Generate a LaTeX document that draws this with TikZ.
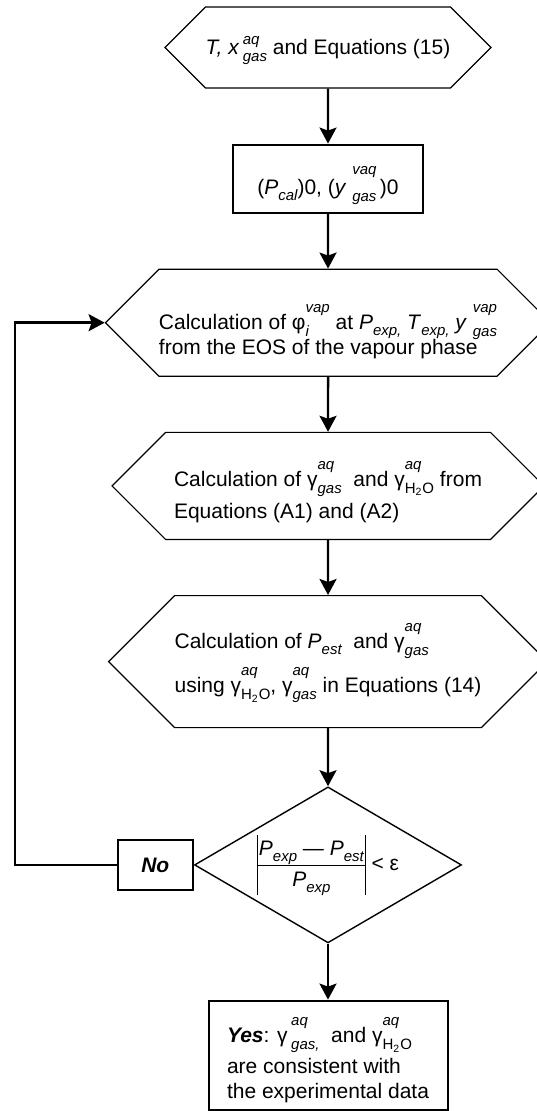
\documentclass[tikz,border=0pt]{standalone}
\usepackage{fontspec}
\setmainfont{Liberation Sans}
\usepackage{tikz}
\usetikzlibrary{positioning, shapes.symbols, shapes.geometric, arrows.meta}

\newcommand{\sst}[3][8.5pt]{{\fontsize{7.5}{9}\selectfont\itshape
  \setbox0\hbox{#2}\setbox2\hbox{#3}%
  \dimen0=\wd0 \ifdim\wd2>\dimen0 \dimen0=\wd2 \fi
  \rlap{\smash{\raisebox{#1}{\box0}}}\rlap{\smash{\raisebox{-3.5pt}{\box2}}}\hspace*{\dimen0}}}
\newcommand{\sbs}[1]{\smash{\raisebox{-3pt}{\fontsize{7.5}{9}\selectfont\itshape #1}}}

\begin{document}
\begin{tikzpicture}[x=1pt, y=1pt, node distance=27.5pt,
  font=\fontsize{10.5}{12.5}\selectfont,
  hexbox/.style={draw, line width=0.6pt, signal, signal to=east and west,
    signal pointer angle=90, align=left, inner sep=0pt},
  stepbox/.style={draw, line width=1pt, rectangle, inner sep=0pt},
  testbox/.style={draw, line width=0.7pt, diamond, shape aspect=1.7, inner sep=0pt},
  flow/.style={line width=1.2pt, -{Stealth[length=8pt, width=8.5pt, inset=1.5pt]}}]
\useasboundingbox (0,0) rectangle (268,-555.5);
\node[hexbox, minimum width=163pt, minimum height=40.5pt, text height=10pt, text depth=2.5pt]
  (start) at (164,-23.75) {\textit{T, x}\,\sst[5pt]{aq}{gas} and Equations (15)};
\node[stepbox, below=of start, minimum width=95pt, minimum height=34pt, text height=18pt, text depth=2pt]
  (init) {(\textit{P}\sbs{cal})0, (\textit{y}\ \sst[10pt]{vaq}{gas}\,)0};
\node[hexbox, below=of init, minimum width=217pt, minimum height=53.5pt, text height=34.5pt, text depth=3pt]
  (phi) {Calculation of φ\sst{vap}{i} at \textit{P}\sbs{exp,} \textit{T}\sbs{exp,} \textit{y}\ \sst{vap}{gas}\\[0pt]
    from the EOS of the vapour phase};
\node[hexbox, below=of phi, minimum width=216pt, minimum height=53.5pt, text height=35.5pt, text depth=3pt]
  (gam) {Calculation of γ\sst{aq}{gas}\ \ and γ\sst{aq}{\upshape H\textsubscript{2}O} from\\[3.5pt]
    Equations (A1) and (A2)};
\node[hexbox, below=of gam, minimum width=216pt, minimum height=66pt, text height=34pt, text depth=3pt]
  (est) {Calculation of \textit{P}\sbs{est}\ \ and γ\sst{aq}{gas}\\[9.5pt]
    using γ\sst{aq}{\upshape H\textsubscript{2}O}, γ\sst{aq}{gas} in Equations (14)};
\node[testbox, below=29pt of est, minimum width=133.5pt, minimum height=78pt]
  (dec) {{\renewcommand\arraystretch{1.2}\setlength\tabcolsep{1pt}%
    \begin{tabular}{|c|}\textit{P}\sbs{exp} — \textit{P}\sbs{est}\\\hline \textit{P}\sbs{exp}\end{tabular}} < ε};
\node[stepbox, left=0pt of dec, minimum width=37.5pt, minimum height=25pt]
  (no) {\textbf{\textit{No}}};
\node[stepbox, below=28pt of dec, minimum width=119.5pt, minimum height=54.5pt, align=left,
  text height=46.5pt, text depth=3pt]
  (yes) {\textbf{\textit{Yes}}: γ\,\sst{aq}{gas,}\ \ and γ\sst{aq}{\upshape H\textsubscript{2}O}\\[3pt]
    are consistent with\\the experimental data};
\draw[flow] (start) -- (init);
\draw[flow] (init) -- (phi);
\draw[flow] (phi) -- (gam);
\draw[flow] (gam) -- (est);
\draw[flow] (est) -- (dec);
\draw[flow] (dec) -- (yes);
\draw[flow] (no.west) -- ++(-51,0) |- (phi.west);
\end{tikzpicture}
\end{document}
